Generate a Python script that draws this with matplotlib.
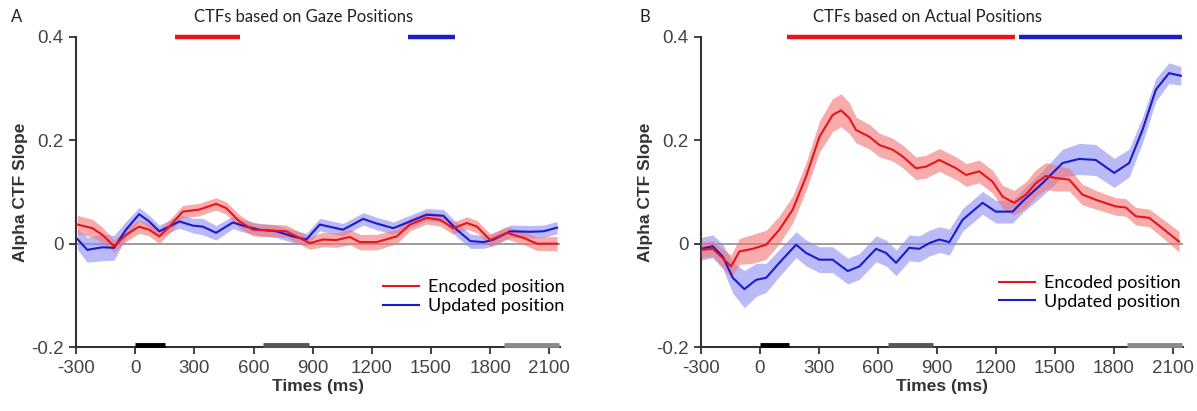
import matplotlib
matplotlib.use("Agg")
import matplotlib.pyplot as plt
import numpy as np

# Panel A: CTFs based on gaze positions
a_enc_t = [-293, -217, -166, -107, -47, 20, 71, 122, 173, 241, 325, 410, 461, 529, 597, 664, 766, 834,
           885, 952, 1020, 1088, 1139, 1224, 1326, 1393, 1478, 1546, 1613, 1682, 1733, 1800, 1885, 1970, 2037, 2139]
a_enc = [0.037, 0.030, 0.017, -0.005, 0.017, 0.033, 0.027, 0.014, 0.033, 0.062, 0.066, 0.077, 0.069, 0.043, 0.027,
         0.026, 0.024, 0.011, 0.001, 0.008, 0.007, 0.013, 0.003, 0.003, 0.014, 0.037, 0.050, 0.046, 0.030, 0.040,
         0.033, 0.007, 0.021, 0.011, 0.000, 0.000]
a_enc_sem = [0.018, 0.017, 0.015, 0.012, 0.013, 0.013, 0.012, 0.014, 0.013, 0.012, 0.012, 0.012, 0.012, 0.013, 0.012,
             0.012, 0.012, 0.012, 0.012, 0.014, 0.014, 0.015, 0.015, 0.015, 0.014, 0.012, 0.012, 0.012, 0.012, 0.012,
             0.012, 0.012, 0.012, 0.013, 0.013, 0.014]

a_upd_t = [-293, -243, -166, -107, -47, 20, 71, 122, 173, 224, 292, 343, 410, 495, 563, 631, 716, 800, 868, 936,
           1054, 1156, 1224, 1309, 1393, 1478, 1563, 1631, 1699, 1767, 1818, 1902, 2004, 2071, 2139]
a_upd = [0.009, -0.012, -0.007, -0.008, 0.027, 0.057, 0.043, 0.024, 0.033, 0.043, 0.035, 0.033, 0.021, 0.041,
         0.033, 0.027, 0.024, 0.014, 0.008, 0.037, 0.027, 0.048, 0.039, 0.030, 0.043, 0.056, 0.054, 0.027, 0.005,
         0.003, 0.008, 0.024, 0.023, 0.024, 0.031]
a_upd_sem = [0.020, 0.024, 0.026, 0.024, 0.016, 0.013, 0.012, 0.012, 0.012, 0.013, 0.014, 0.016, 0.014, 0.012,
             0.012, 0.012, 0.012, 0.012, 0.012, 0.012, 0.012, 0.012, 0.012, 0.012, 0.012, 0.012, 0.012, 0.014, 0.014,
             0.012, 0.012, 0.012, 0.012, 0.012, 0.012]

# Panel B: CTFs based on actual positions
b_enc_t = [-299, -240, -189, -147, -104, -37, 32, 99, 167, 235, 303, 370, 413, 455, 489, 557, 608, 675, 726, 794,
           845, 913, 998, 1049, 1116, 1184, 1235, 1294, 1354, 1404, 1455, 1506, 1574, 1641, 1709, 1811, 1862, 1913,
           1981, 2048, 2133]
b_enc = [-0.012, -0.010, -0.028, -0.044, -0.015, -0.010, -0.002, 0.027, 0.066, 0.130, 0.207, 0.249, 0.258, 0.243,
         0.220, 0.207, 0.191, 0.182, 0.169, 0.146, 0.149, 0.162, 0.146, 0.133, 0.140, 0.120, 0.091, 0.079, 0.095,
         0.117, 0.131, 0.127, 0.124, 0.095, 0.085, 0.072, 0.070, 0.053, 0.050, 0.030, 0.004]
b_enc_sem = [0.015, 0.015, 0.018, 0.022, 0.025, 0.028, 0.028, 0.027, 0.026, 0.027, 0.030, 0.032, 0.032, 0.030,
             0.025, 0.024, 0.023, 0.022, 0.022, 0.022, 0.022, 0.022, 0.022, 0.022, 0.022, 0.022, 0.022, 0.024,
             0.025, 0.026, 0.026, 0.025, 0.022, 0.020, 0.018, 0.017, 0.017, 0.017, 0.017, 0.018, 0.020]

b_upd_t = [-299, -240, -189, -138, -79, -19, 32, 99, 184, 235, 303, 370, 447, 506, 591, 642, 693, 760, 811, 862,
           913, 964, 1031, 1133, 1201, 1286, 1337, 1438, 1540, 1625, 1709, 1803, 1879, 1947, 2015, 2082, 2142]
b_upd = [-0.010, -0.005, -0.025, -0.066, -0.088, -0.070, -0.066, -0.037, -0.002, -0.018, -0.031, -0.031, -0.053,
         -0.044, -0.010, -0.018, -0.037, -0.008, -0.010, 0.001, 0.008, 0.003, 0.046, 0.079, 0.062, 0.062, 0.082,
         0.117, 0.156, 0.164, 0.162, 0.137, 0.156, 0.220, 0.298, 0.330, 0.325]
b_upd_sem = [0.022, 0.022, 0.024, 0.030, 0.036, 0.032, 0.028, 0.026, 0.025, 0.025, 0.025, 0.025, 0.025, 0.025,
             0.025, 0.025, 0.025, 0.025, 0.025, 0.025, 0.025, 0.025, 0.022, 0.022, 0.022, 0.022, 0.022, 0.024,
             0.027, 0.030, 0.030, 0.028, 0.027, 0.025, 0.022, 0.020, 0.018]

# significance bars at top: (start, end, colour key)
a_sig = [(200, 530, "enc"), (1385, 1620, "upd")]
b_sig = [(140, 1300, "enc"), (1320, 2150, "upd")]

# task epochs drawn on the x-axis
epochs = [(0, 150, "#000000"), (650, 880, "#555555"), (1870, 2150, "#8a8a8a")]

xticks = [-300, 0, 300, 600, 900, 1200, 1500, 1800, 2100]
yticks = [-0.2, 0, 0.2, 0.4]
ytick_labels = ["-0.2", "0", "0.2", "0.4"]

RED, RED_FILL = "#e8141c", "#f27474"
BLUE, BLUE_FILL = "#1a1ad0", "#8c8cf0"
cols = {"enc": RED, "upd": BLUE}

plt.rcParams["font.family"] = ["Liberation Sans", "DejaVu Sans"]
plt.rcParams["axes.unicode_minus"] = False

fig = plt.figure(figsize=(11.97, 4.11), dpi=100)
ax_a = fig.add_axes([0.0635, 0.1557, 0.4045, 0.7543])
ax_b = fig.add_axes([0.5856, 0.1557, 0.4030, 0.7543])

panels = [
    (ax_a, a_enc_t, a_enc, a_enc_sem, a_upd_t, a_upd, a_upd_sem, a_sig,
     "CTFs based on Gaze Positions", (1.010, 0.107)),
    (ax_b, b_enc_t, b_enc, b_enc_sem, b_upd_t, b_upd, b_upd_sem, b_sig,
     "CTFs based on Actual Positions", (0.994, 0.120)),
]

for ax, et, ev, es, ut, uv, us, sig, title, leg_anchor in panels:
    ax.axhline(0, color="#8c8c8c", lw=1.2, zorder=1)
    et, ev, es = np.array(et), np.array(ev), np.array(es)
    ut, uv, us = np.array(ut), np.array(uv), np.array(us)
    ax.fill_between(ut, uv - us, uv + us, color=BLUE_FILL, alpha=0.6, lw=0, zorder=2)
    ax.fill_between(et, ev - es, ev + es, color=RED_FILL, alpha=0.6, lw=0, zorder=3)
    ax.plot(ut, uv, color=BLUE, lw=1.5, zorder=4, label="Updated position")
    ax.plot(et, ev, color=RED, lw=1.5, zorder=5, label="Encoded position")

    for s, e, k in sig:
        ax.plot([s, e], [0.4, 0.4], color=cols[k], lw=3.2, solid_capstyle="butt", clip_on=False, zorder=6)
    for s, e, c in epochs:
        ax.plot([s, e], [-0.1965, -0.1965], color=c, lw=3.5, solid_capstyle="butt", clip_on=False, zorder=6)

    ax.set_xlim(-300, 2155)
    ax.set_ylim(-0.2, 0.4)
    ax.set_xticks(xticks)
    ax.set_yticks(yticks)
    ax.set_yticklabels(ytick_labels)
    ax.tick_params(direction="out", length=5, width=1.3, colors="#333333", labelcolor="#444444",
                   labelsize=13.5, pad=4)
    for sp in ["top", "right"]:
        ax.spines[sp].set_visible(False)
    for sp in ["left", "bottom"]:
        ax.spines[sp].set_color("#333333")
        ax.spines[sp].set_linewidth(1.5)
    ax.set_xlabel("Times (ms)", fontsize=12.5, fontweight="bold", color="#333333", labelpad=2)
    ax.set_ylabel("Alpha CTF Slope", fontsize=12.5, fontweight="bold", color="#333333", labelpad=2)

    h, l = ax.get_legend_handles_labels()
    ax.legend(h[::-1], l[::-1], loc="lower right", bbox_to_anchor=leg_anchor, frameon=False,
              prop={"family": "Lato", "size": 13}, handlelength=2.0, handletextpad=0.5,
              labelspacing=0.15, borderaxespad=0, borderpad=0)

    pos = ax.get_position()
    fig.text(pos.x0 + pos.width * 0.47, 0.958, title, ha="center", va="center",
             fontsize=12, family="Lato", color="#222222")

fig.text(0.0135, 0.958, "A", ha="center", va="center", fontsize=12, family="Lato", color="#222222")
fig.text(0.539, 0.958, "B", ha="center", va="center", fontsize=12, family="Lato", color="#222222")

fig.savefig("out.png", dpi=100)
